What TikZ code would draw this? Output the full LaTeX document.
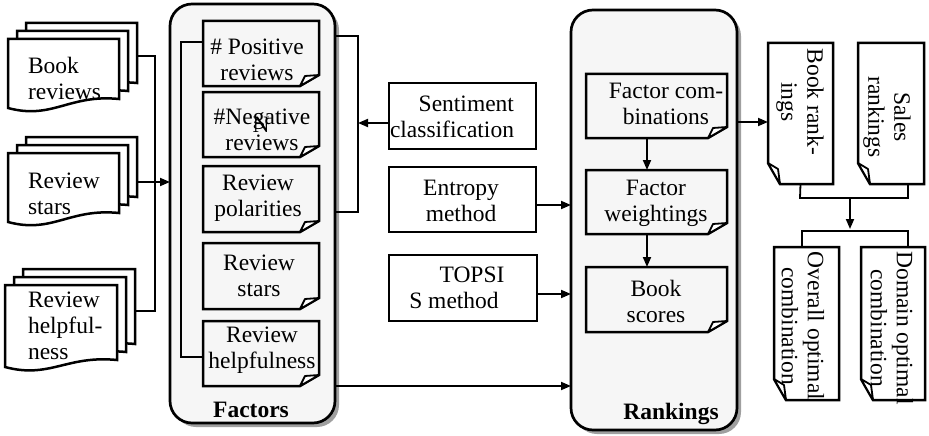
\documentclass[tikz,border=0pt]{standalone}
\usepackage{fontspec}
\setmainfont{Liberation Serif}
\usetikzlibrary{arrows.meta,calc,shadows}
\newcommand\sheet[5]{%
  \draw[box, fill=white, shift={(#1,#2)}] (0,0) -- (#3,0) -- (#3,#4)
    .. controls ({0.55*#3},{#4-5}) and ({0.4*#3},{#5+12}) .. (0,#5) -- cycle;}
\newcommand\mdoc[5]{\sheet{#1+18}{#2-16}{#3}{#4}{#5}\sheet{#1+9}{#2-8}{#3}{#4}{#5}\sheet{#1}{#2}{#3}{#4}{#5}}
\newcommand\foldR[1]{%
  \draw[box] (#1.north west) -- (#1.north east) -- ($(#1.south east)+(0,-11)$)
    -- ($(#1.south east)+(-19,0)$) -- (#1.south west) -- cycle;
  \draw[box, fill=white, line width=1.8pt, line join=round] ($(#1.south east)+(-19,0)$)
    -- ($(#1.south east)+(-14,-10)$) -- ($(#1.south east)+(0,-11)$) -- cycle;}
\newcommand\foldL[1]{%
  \draw[box] (#1.north west) -- (#1.north east) -- (#1.south east)
    -- ($(#1.south west)+(12,0)$) -- ($(#1.south west)+(0,-21)$) -- cycle;
  \draw[box, fill=white, line width=1.8pt, line join=round] ($(#1.south west)+(12,0)$)
    -- ($(#1.south west)+(10,-15)$) -- ($(#1.south west)+(0,-21)$) -- cycle;}
\begin{document}
\begin{tikzpicture}[x=1pt,y=-1pt,
  every node/.style={inner sep=0pt, outer sep=0pt, font=\fontsize{23.5}{26}\selectfont},
  box/.style={draw, line width=2.5pt},
  conn/.style={line width=1.8pt},
  arr/.style={conn, -{Triangle[length=10pt,width=8pt]}},
  container/.style={draw, line width=2.7pt, rounded corners=22pt, fill=gray!7,
    drop shadow={shadow xshift=4pt, shadow yshift=-4pt, fill=gray!75, opacity=1}},
  grayback/.style={fill=gray!7},
  whiteback/.style={fill=white},
  plainbox/.style={box, fill=white},
  txt/.style={align=center},
  lbl/.style={font=\fontsize{23.5}{26}\selectfont\bfseries}
]
\useasboundingbox (0,0) rectangle (929,436);

% ---------- containers ----------
\node[container, minimum width=165pt, minimum height=419pt] (factors) at (252.5,213.5) {};
\node[container, minimum width=166pt, minimum height=420pt] (rankings) at (654,220) {};
\node[lbl] (factorslbl) at (251,410) {Factors};
\node[lbl] (rankingslbl) at (671,414) {Rankings};

% ---------- left multi-documents ----------
\mdoc{8}{39}{111}{60}{69}
\mdoc{8}{153}{111}{60}{69}
\mdoc{5}{285}{112}{75}{82}
\node[txt, align=left, anchor=west] (bookrev) at (28,78) {Book\\reviews};
\node[txt, align=left, anchor=west] (revstars) at (28,194) {Review\\stars};
\node[txt, align=left, anchor=west] (revhelp) at (28,326) {Review\\helpful-\\ness};
\coordinate (bookR) at (137,56);
\coordinate (starsR) at (137,182);
\coordinate (helpR) at (134,311);
\coordinate (jn) at (155,182);

% ---------- factor boxes ----------
\node[grayback, minimum width=116pt, minimum height=65pt] (pos) at (261,53.5) {};
\node[grayback, minimum width=116pt, minimum height=65pt] (neg) at (261,124.5) {};
\node[grayback, minimum width=116pt, minimum height=66pt] (pol) at (261,199) {};
\node[grayback, minimum width=116pt, minimum height=66pt] (stars2) at (261,276) {};
\node[grayback, minimum width=116pt, minimum height=65pt] (help2) at (261,353.5) {};
\foldR{pos}\foldR{neg}\foldR{pol}\foldR{stars2}\foldR{help2}
\node[txt] (postxt) at (257,59.5) {\# Positive\\reviews};
\node[txt] (negtxt) at (262,130) {\#Negative\\reviews};
\node (stray) at (261,125) {N};
\node[txt] (poltxt) at (258,198) {Review\\polarities};
\node[txt] (starstxt) at (259,276) {Review\\stars};
\node[txt] (helptxt) at (262,350) {Review\\helpfulness};

% ---------- method boxes ----------
\node[plainbox, minimum width=147pt, minimum height=66pt] (sent) at (462.5,116) {};
\node[plainbox, minimum width=147pt, minimum height=65pt] (entr) at (462.5,199.5) {};
\node[plainbox, minimum width=148pt, minimum height=66pt] (tops) at (463,288) {};
\node[txt, align=right, anchor=east] (senttxt) at (514,117) {Sentiment\\classification};
\node[txt] (entrtxt) at (461,201) {Entropy\\method};
\node[txt] (topstxt) at (454,288) {\hspace*{36pt}TOPSI\\S method};

% ---------- ranking boxes ----------
\node[grayback, minimum width=141pt, minimum height=64pt] (comb) at (656.5,106) {};
\node[grayback, minimum width=141pt, minimum height=64pt] (weig) at (656.5,202) {};
\node[grayback, minimum width=141pt, minimum height=65pt] (scor) at (656.5,299.5) {};
\foldR{comb}\foldR{weig}\foldR{scor}
\node[txt] (combtxt) at (666,104) {Factor com-\\binations};
\node[txt] (weigtxt) at (656,203) {Factor\\weightings};
\node[txt] (scortxt) at (656,301) {Book\\scores};

% ---------- right boxes ----------
\node[whiteback, minimum width=65pt, minimum height=141pt] (brank) at (800.5,113.5) {};
\node[whiteback, minimum width=66pt, minimum height=141pt] (srank) at (891,113.5) {};
\node[whiteback, minimum width=65pt, minimum height=153pt] (overall) at (806.5,323.5) {};
\node[whiteback, minimum width=64pt, minimum height=153pt] (domain) at (893,323.5) {};
\foldL{brank}\foldL{srank}\foldL{overall}\foldL{domain}
\node[txt, rotate=-90] (branktxt) at (800,102) {Book rank-\\ings};
\node[txt, rotate=-90] (sranktxt) at (887,117) {Sales\\rankings};
\node[txt, rotate=-90] (overalltxt) at (803,326) {Overall optimal\\combination};
\node[txt, rotate=-90] (domaintxt) at (892,328) {Domain optimal\\combination};

% ---------- connectors ----------
\draw[conn] (bookR) -| (jn);
\draw[conn] (helpR) -| (jn);
\draw[arr] (starsR) -- (starsR -| factors.west);

\coordinate (lbT) at (203,42);
\coordinate (lbB) at (203,357);
\draw[conn] (lbT) -- (181,42) -- (181,357) -- (lbB);

\coordinate (rbT) at (335,36);
\coordinate (rbB) at (335,212);
\coordinate (rbM) at (358,123);
\draw[conn] (rbT) -- (358,36) -- (358,212) -- (rbB);
\coordinate (sa) at ($(sent.west)+(0,7)$);
\draw[arr] (sa) -- (rbM);

\coordinate (ea) at ($(entr.east)+(0,5.5)$);
\coordinate (ta) at ($(tops.east)+(0,6)$);
\coordinate (fr) at (335,386);
\draw[arr] (ea) -- (ea -| rankings.west);
\draw[arr] (ta) -- (ta -| rankings.west);
\draw[arr] (fr) -- (fr -| rankings.west);

\coordinate (c1) at ($(comb.south)+(-9.5,0)$);
\coordinate (w1) at ($(weig.north)+(-9.5,0)$);
\coordinate (w2) at ($(weig.south)+(-9.5,0)$);
\coordinate (s1) at ($(scor.north)+(-9.5,0)$);
\draw[arr] (c1) -- (w1);
\draw[arr] (w2) -- (s1);

\coordinate (rk) at (737,122);
\draw[arr] (rk) -- (rk -| brank.west);

\coordinate (bT) at (850,198);
\coordinate (bB) at (850,229);
\draw[conn] (brank.south) -- (800,198) -- (908,198) -- (908,184);
\draw[arr] (bT) -- (bB);
\draw[conn] (802,247) -- (802,231) -- (908,231) -- (908,247);
\end{tikzpicture}
\end{document}
